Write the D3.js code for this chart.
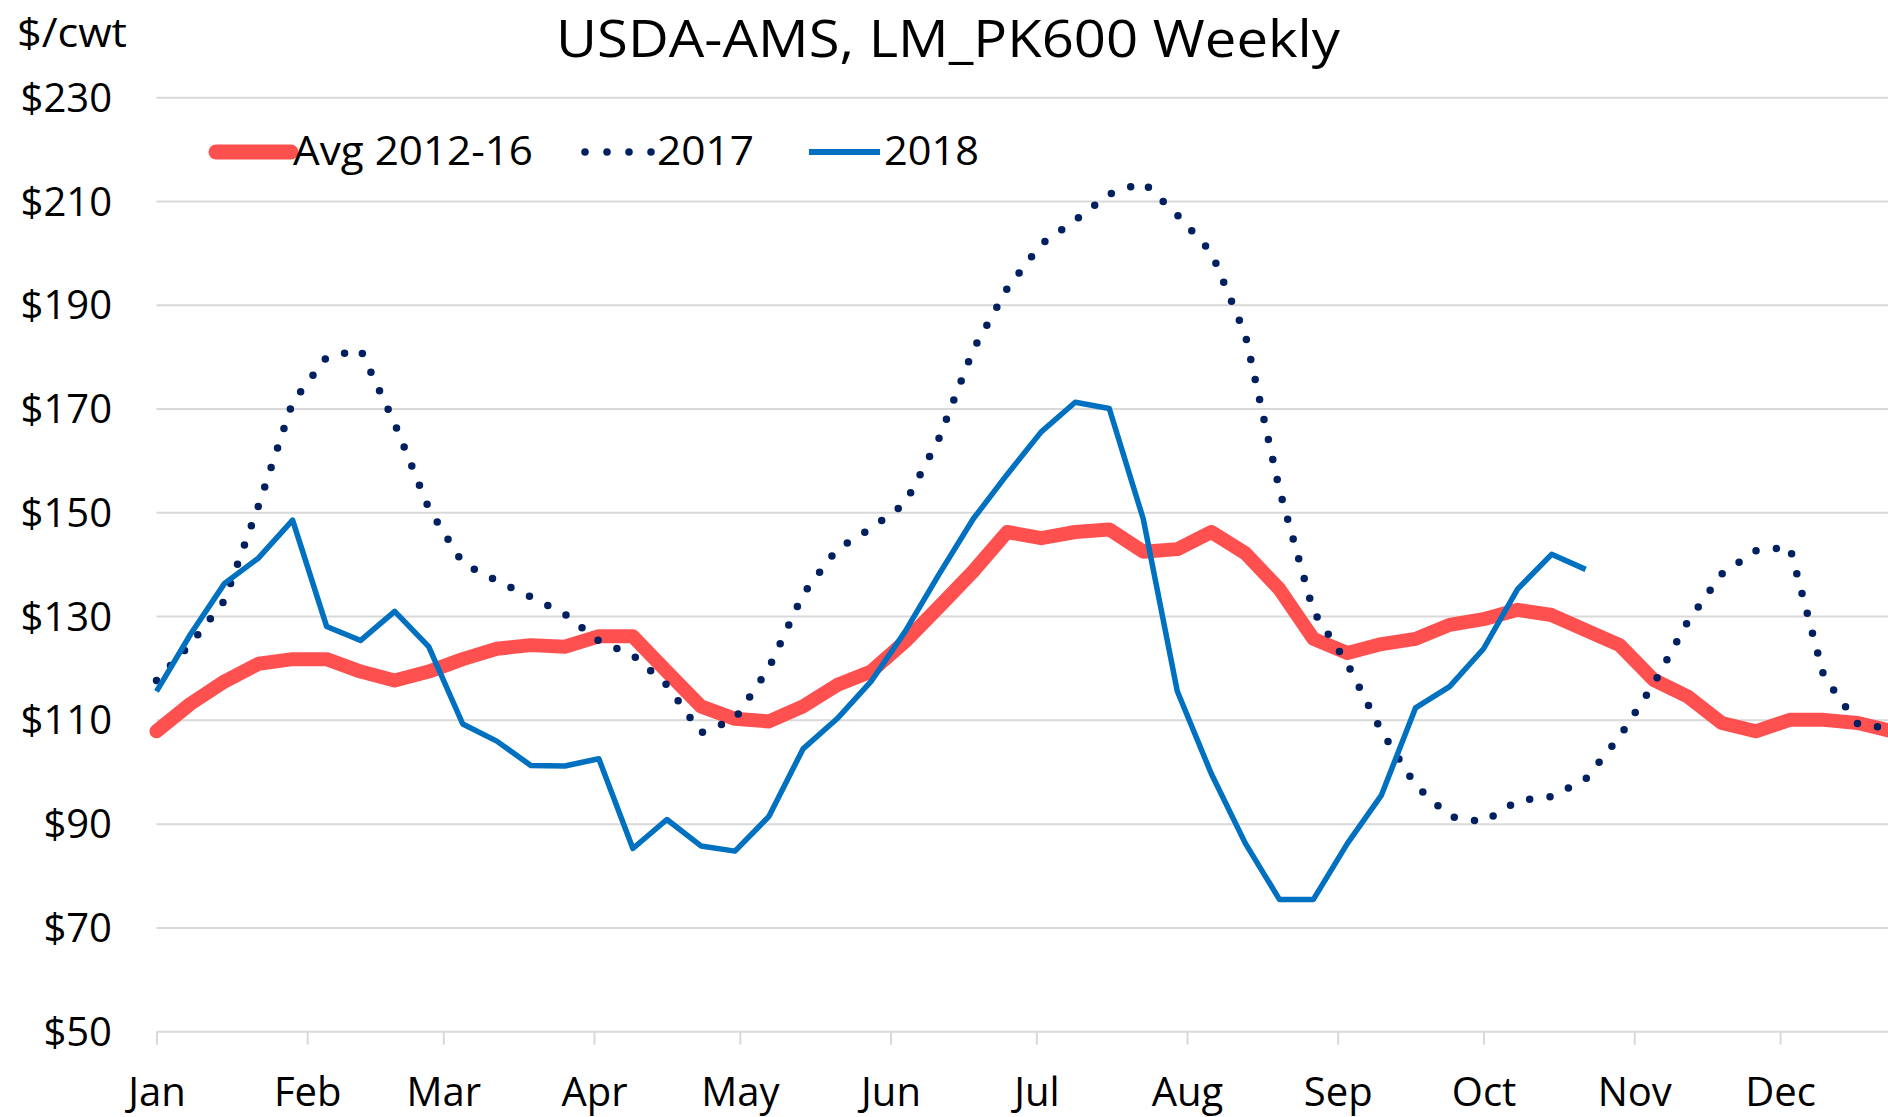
<!DOCTYPE html>
<html lang="en">
<head>
<meta charset="UTF-8">
<title>USDA-AMS, LM_PK600 Weekly</title>
<script src="https://d3js.org/d3.v7.min.js"></script>
<style>
  html, body { margin: 0; padding: 0; background: #fff; }
  svg { display: block; font-family: 'Open Sans', 'Noto Sans', sans-serif; }
</style>
</head>
<body>
<svg id="chart"></svg>
<script>
// weekly price series, $/cwt (week 1 = first week of January)
const avg2012_16 = [107.9, 113.2, 117.5, 120.9, 121.8, 121.8, 119.4, 117.7, 119.4, 121.8,
  123.8, 124.5, 124.2, 126.2, 126.2, 119.4, 112.7, 110.3, 109.8, 112.7,
  116.8, 119.4, 125.2, 131.9, 138.7, 146.3, 145.1, 146.3, 146.8, 142.5,
  143.0, 146.3, 142.2, 135.3, 125.7, 123.0, 124.7, 125.7, 128.4, 129.5,
  131.3, 130.3, 127.4, 124.5, 117.8, 114.6, 109.5, 107.9, 110.1, 110.1,
  109.5, 107.9];
const y2017 = [117.7, 124.7, 133.1, 151.4, 171.3, 180.0, 181.4, 167.2, 150.9, 140.3,
  136.9, 133.8, 130.5, 125.3, 122.6, 116.8, 107.6, 110.3, 120.1, 134.3,
  143.0, 147.0, 151.8, 164.4, 181.4, 193.2, 201.8, 206.4, 211.4, 213.7,
  207.4, 200.2, 184.3, 154.5, 131.0, 120.9, 107.9, 97.5, 91.5, 90.4,
  94.5, 95.3, 98.7, 106.9, 117.0, 129.0, 138.2, 142.7, 143.4, 118.5,
  109.3, 108.4];
const y2018 = [115.6, 126.6, 136.4, 141.3, 148.6, 128.1, 125.4, 131.0, 124.2, 109.3,
  106.0, 101.3, 101.2, 102.6, 85.3, 90.9, 85.8, 84.8, 91.5, 104.5,
  110.3, 117.5, 127.1, 138.2, 148.8, 157.4, 165.6, 171.3, 170.1, 148.8,
  115.6, 99.7, 86.3, 75.5, 75.5, 86.3, 95.6, 112.4, 116.5, 123.8,
  135.3, 142.0, 139.1];

const monthLabels = ["Jan", "Feb", "Mar", "Apr", "May", "Jun", "Jul", "Aug", "Sep", "Oct", "Nov", "Dec"];
const yTicks = [50, 70, 90, 110, 130, 150, 170, 190, 210, 230];
const seriesNames = ["Avg 2012-16", "2017", "2018"];

const width = 1888, height = 1117;
const yearStart = new Date(2018, 0, 1);
const weekDates = d3.range(52).map(i => d3.timeDay.offset(yearStart, 7 * i));
const monthDates = d3.range(12).map(m => new Date(2018, m, 1));

const svg = d3.select("#chart").attr("width", width).attr("height", height);

// plot extends past the right edge of the picture (cropped in Dec)
const x = d3.scaleTime()
  .domain([yearStart, new Date(2018, 11, 31)])
  .range([156.5, 156.5 + 364 * 4.861]);
const y = d3.scaleLinear().domain([50, 230]).range([1031.7, 97.7]);

// gridlines
svg.append("g").selectAll("line")
  .data(yTicks.slice(1))
  .enter().append("line")
  .attr("x1", x.range()[0]).attr("x2", width)
  .attr("y1", d => y(d)).attr("y2", d => y(d))
  .attr("stroke", "#d9d9d9").attr("stroke-width", 2);

// y axis labels
const yAxis = svg.append("g")
  .attr("transform", `translate(112,0)`)
  .call(d3.axisLeft(y).tickValues(yTicks).tickSize(0).tickPadding(0).tickFormat(d => "$" + d));
yAxis.select(".domain").remove();
yAxis.selectAll("text").attr("font-size", 40).attr("fill", "#000")
  .attr("font-family", "'Open Sans', sans-serif").attr("dy", "0.34em");

// x axis
const xAxis = svg.append("g")
  .attr("transform", `translate(0,${y(50)})`)
  .call(d3.axisBottom(x).tickValues(monthDates).tickSize(13).tickPadding(0)
    .tickFormat((d, i) => monthLabels[i]));
xAxis.select(".domain").attr("d", `M${x.range()[0]},0H${width}`)
  .attr("stroke", "#d9d9d9").attr("stroke-width", 2);
xAxis.selectAll(".tick line").attr("stroke", "#d9d9d9").attr("stroke-width", 2);
xAxis.selectAll("text").attr("font-size", 40).attr("fill", "#000")
  .attr("font-family", "'Open Sans', sans-serif")
  .attr("y", 0).attr("dy", 0).attr("transform", "translate(0,74)");

// lines
const line = d3.line().x((d, i) => x(weekDates[i])).y(d => y(d));

svg.append("path").datum(avg2012_16)
  .attr("d", line).attr("fill", "none")
  .attr("stroke", "#FF5050").attr("stroke-width", 14)
  .attr("stroke-linejoin", "round").attr("stroke-linecap", "round");

svg.append("path").datum(y2017)
  .attr("d", line).attr("fill", "none")
  .attr("stroke", "#002060").attr("stroke-width", 7.5)
  .attr("stroke-linecap", "round").attr("stroke-dasharray", "0 20.5");

svg.append("path").datum(y2018)
  .attr("d", line).attr("fill", "none")
  .attr("stroke", "#0070C0").attr("stroke-width", 5.5)
  .attr("stroke-linejoin", "round");

// title and unit
svg.append("text")
  .attr("x", 948).attr("y", 57)
  .attr("text-anchor", "middle")
  .attr("font-size", 52)
  .attr("textLength", 784).attr("lengthAdjust", "spacingAndGlyphs")
  .text("USDA-AMS, LM_PK600 Weekly");

svg.append("text")
  .attr("x", 17).attr("y", 47)
  .attr("font-size", 40)
  .attr("textLength", 110).attr("lengthAdjust", "spacingAndGlyphs")
  .text("$/cwt");

// legend
const legend = svg.append("g");
const legendItems = [
  { name: seriesNames[0], x1: 216, x2: 291, color: "#FF5050", w: 15, dash: null, cap: "round", tx: 293, tl: 240 },
  { name: seriesNames[1], x1: 585, x2: 652, color: "#002060", w: 7.5, dash: "0 22", cap: "round", tx: 657, tl: 97 },
  { name: seriesNames[2], x1: 809, x2: 880, color: "#0070C0", w: 6, dash: null, cap: "butt", tx: 884, tl: 95 }
];
legendItems.forEach(d => {
  legend.append("line")
    .attr("x1", d.x1).attr("x2", d.x2).attr("y1", 152).attr("y2", 152)
    .attr("stroke", d.color).attr("stroke-width", d.w)
    .attr("stroke-linecap", d.cap)
    .attr("stroke-dasharray", d.dash);
  legend.append("text")
    .attr("x", d.tx).attr("y", 165)
    .attr("font-size", 41)
    .attr("textLength", d.tl).attr("lengthAdjust", "spacingAndGlyphs")
    .text(d.name);
});
</script>
</body>
</html>
